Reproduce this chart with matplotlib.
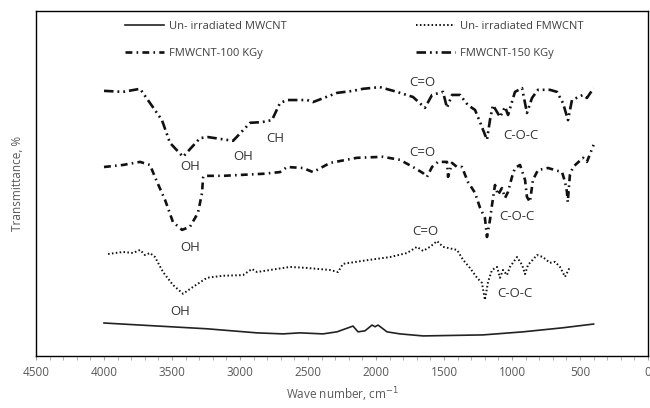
import matplotlib
matplotlib.use("Agg")
import matplotlib.pyplot as plt
from matplotlib.ticker import MultipleLocator

plt.rcParams['font.family'] = ['Open Sans', 'DejaVu Sans']

# FTIR spectra (transmittance in arbitrary units)
wn_mwcnt = [4000, 3735, 3243, 2875, 2684, 2559, 2390, 2287, 2169, 2132, 2081,
            2029, 2007, 1985, 1919, 1824, 1654, 1213, 919, 625, 400]
t_mwcnt = [8.5, 7.9, 6.8, 5.6, 5.3, 5.6, 5.3, 5.9, 7.6, 5.9, 6.2,
           7.9, 7.4, 7.9, 5.9, 5.3, 4.7, 5.0, 5.9, 7.1, 8.2]

wn_fmwcnt = [3970, 3860, 3787, 3735, 3699, 3662, 3625, 3566, 3493, 3419, 3346,
             3243, 3125, 2978, 2912, 2875, 2779, 2632, 2507, 2338, 2279, 2243,
             2096, 2044, 1897, 1772, 1699, 1654, 1603, 1551, 1507, 1404, 1360,
             1309, 1257, 1221, 1199, 1176, 1147, 1110, 1088, 1066, 1037, 1015,
             963, 926, 904, 882, 816, 772, 721, 684, 647, 610, 574]
t_fmwcnt = [28.8, 29.4, 29.1, 30.0, 28.5, 29.1, 27.9, 23.5, 19.7, 17.1, 19.1,
            21.8, 22.4, 22.6, 24.4, 23.5, 24.1, 25.0, 24.7, 24.1, 23.5, 25.9,
            26.8, 27.1, 27.9, 29.1, 30.9, 29.7, 30.9, 32.6, 30.9, 30.0, 27.1,
            24.7, 21.8, 20.3, 15.3, 20.6, 24.1, 25.0, 21.8, 24.1, 22.6, 25.0,
            27.9, 25.6, 22.9, 25.6, 28.5, 27.9, 26.2, 26.5, 25.0, 22.1, 25.0]

wn_100 = [4000, 3860, 3735, 3662, 3610, 3551, 3493, 3426, 3368, 3309, 3279,
          3272, 3265, 3125, 2831, 2706, 2654, 2537, 2463, 2338, 2140, 1949,
          1824, 1728, 1654, 1625, 1588, 1544, 1478, 1470, 1441, 1404, 1368,
          1324, 1272, 1235, 1199, 1184, 1162, 1147, 1125, 1103, 1074, 1051,
          1029, 1000, 978, 941, 904, 890, 868, 846, 809, 735, 684, 632, 610,
          596, 590, 574, 551, 478, 449, 400]
t_100 = [54.4, 55.0, 55.9, 55.0, 50.0, 44.7, 38.2, 35.9, 36.8, 40.9, 46.8,
         51.2, 51.8, 51.8, 52.4, 52.9, 54.4, 54.1, 52.9, 55.6, 57.1, 57.4,
         56.5, 54.4, 52.6, 51.5, 54.4, 55.9, 55.9, 51.5, 55.6, 54.4, 54.4,
         50.0, 46.8, 42.4, 39.4, 33.8, 38.8, 43.2, 49.1, 46.2, 48.2, 45.3,
         47.1, 51.5, 54.1, 55.0, 50.6, 45.6, 44.1, 50.6, 53.5, 54.1, 53.5, 52.9, 50.0,
         47.1, 44.1, 52.1, 54.4, 57.1, 55.9, 60.9]

wn_150 = [4000, 3860, 3735, 3574, 3515, 3419, 3294, 3235, 3051, 2926, 2838,
          2765, 2706, 2654, 2507, 2463, 2287, 2169, 2096, 1971, 1846, 1728,
          1640, 1588, 1507, 1478, 1441, 1382, 1324, 1272, 1235, 1184, 1162,
          1140, 1088, 1051, 1029, 978, 926, 890, 853, 809, 721, 669, 625, 588,
          559, 478, 449, 400]
t_150 = [76.8, 76.5, 77.4, 68.2, 61.5, 57.4, 62.9, 63.2, 62.1, 67.4, 67.6,
         68.2, 73.2, 74.1, 74.1, 73.5, 76.2, 76.8, 77.4, 77.9, 76.5, 75.0,
         71.8, 75.6, 76.5, 71.8, 75.6, 75.6, 72.6, 71.2, 67.6, 62.4, 68.2,
         72.6, 69.1, 72.1, 69.7, 76.5, 77.6, 70.3, 74.7, 77.1, 77.1, 76.5, 73.2, 68.2,
         74.1, 75.6, 74.7, 77.6]

# band labels: (text, wavenumber, transmittance)
band_labels = [
    ("C=O", 1662, 79.4), ("OH", 3368, 54.4), ("OH", 2978, 57.6),
    ("CH", 2743, 62.9), ("C-O-C", 934, 63.8),
    ("C=O", 1662, 58.8), ("OH", 3368, 30.6), ("C-O-C", 963, 39.7),
    ("C=O", 1640, 35.3), ("OH", 3441, 11.8), ("C-O-C", 978, 17.1),
]

fig = plt.figure(figsize=(6.5, 4.08), dpi=100)
ax = fig.add_axes([0.0554, 0.1275, 0.9415, 0.8456])

l1, = ax.plot(wn_mwcnt, t_mwcnt, color='#222222', lw=1.2, label='Un- irradiated MWCNT')
l2, = ax.plot(wn_fmwcnt, t_fmwcnt, color='#111111', lw=1.4, linestyle=(0, (0.8, 1.2)),
              label='Un- irradiated FMWCNT')
l3, = ax.plot(wn_100, t_100, color='#111111', lw=1.9, linestyle=(0, (2.6, 1.6, 0.6, 1.6)),
              label='FMWCNT-100 KGy')
l4, = ax.plot(wn_150, t_150, color='#111111', lw=1.9,
              linestyle=(0, (3.6, 1.5, 0.7, 1.5, 0.7, 1.5)), label='FMWCNT-150 KGy')

for txt, x, y in band_labels:
    ax.text(x, y, txt, fontsize=9.5, color='#333333', ha='center', va='center')

ax.set_xlim(4500, 0)
ax.set_ylim(-1.2, 100.3)
ax.xaxis.set_major_locator(MultipleLocator(500))
ax.xaxis.set_minor_locator(MultipleLocator(100))
ax.set_yticks([])
ax.tick_params(axis='x', which='both', direction='out', length=3, color='#a6a6a6',
               labelsize=8.5, labelcolor='#595959', pad=4)
for s in ax.spines.values():
    s.set_color('black')
    s.set_linewidth(1.0)

ax.set_xlabel('Wave number, cm$^{-1}$', fontsize=8.5, color='#595959', labelpad=5)
ax.set_ylabel('Transmittance, %', fontsize=8.5, color='#595959', labelpad=9)

# legend fills column-wise, so order the handles to get two rows as in the original
ax.legend([l1, l3, l2, l4], [l1.get_label(), l3.get_label(), l2.get_label(), l4.get_label()],
          loc='upper center', bbox_to_anchor=(0.52, 0.988), ncol=2, frameon=False,
          fontsize=8, handlelength=3.5, handletextpad=0.4, columnspacing=11.7,
          labelspacing=1.45, borderpad=0, labelcolor='#404040')

fig.savefig('out.png', dpi=100)
